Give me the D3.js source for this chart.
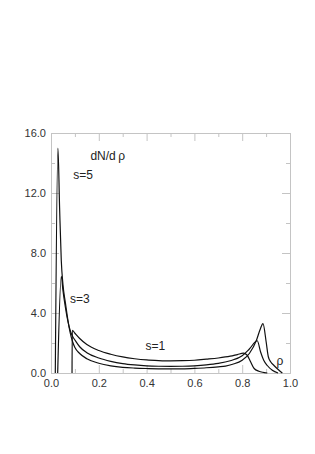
<!DOCTYPE html>
<html>
<head>
<meta charset="utf-8">
<script src="https://cdn.jsdelivr.net/npm/d3@7"></script>
<style>
  body { margin: 0; background: #fff; }
  svg text { font-family: "Liberation Sans", Arial, sans-serif; }
</style>
</head>
<body>
<div id="chart"></div>
<script>
// dN/drho curves for s=1, s=3, s=5 as [rho, value]
var s1 = [[0.088,0],[0.089,2.85],[0.1,2.65],[0.12,2.3],[0.15,1.9],[0.2,1.5],[0.25,1.25],[0.3,1.07],
          [0.35,0.95],[0.4,0.87],[0.45,0.83],[0.5,0.81],[0.55,0.82],[0.6,0.85],[0.65,0.92],[0.7,1.0],
          [0.75,1.12],[0.78,1.23],[0.805,1.32],[0.82,1.2],[0.835,0.75],[0.85,0.3],[0.87,0.12],[0.885,0.05],[0.905,0]];
var s3 = [[0.028,0],[0.043,6.45],[0.05,5.5],[0.06,4.4],[0.07,3.5],[0.08,2.85],[0.09,2.45],[0.1,2.2],
          [0.12,1.75],[0.15,1.35],[0.2,1.0],[0.25,0.78],[0.3,0.63],[0.35,0.54],[0.4,0.48],[0.45,0.45],
          [0.5,0.44],[0.55,0.45],[0.6,0.48],[0.65,0.54],[0.7,0.64],[0.75,0.82],[0.8,1.15],[0.83,1.6],
          [0.863,2.15],[0.877,1.4],[0.89,0.85],[0.905,0.5],[0.926,0.18],[0.95,0]];
var s5 = [[0.018,0],[0.029,15],[0.036,11],[0.043,7.5],[0.05,5.9],[0.06,4.7],[0.07,3.6],[0.08,2.7],
          [0.09,2.1],[0.1,1.7],[0.12,1.3],[0.15,0.95],[0.2,0.65],[0.25,0.48],[0.3,0.38],[0.35,0.33],
          [0.4,0.3],[0.45,0.28],[0.5,0.27],[0.55,0.28],[0.6,0.31],[0.65,0.35],[0.7,0.41],[0.73,0.46],
          [0.76,0.58],[0.8,0.85],[0.83,1.3],[0.86,2.2],[0.875,2.9],[0.887,3.29],[0.9,2.1],[0.909,1.1],
          [0.919,0.75],[0.933,0.5],[0.954,0.18],[0.968,0]];

var xMajor = [0, 0.2, 0.4, 0.6, 0.8, 1.0];
var xMinor = [0.1, 0.3, 0.5, 0.7, 0.9];
var yMajor = [0, 4, 8, 12, 16];
var yMinor = [2, 6, 10, 14];

// curve labels: [text, rho, value]
var labels = [["s=5", 0.093, 12.93], ["s=3", 0.08, 4.7], ["s=1", 0.395, 1.52]];

var margin = {top: 133, right: 25, bottom: 81, left: 51},
    width = 315 - margin.left - margin.right,
    height = 454 - margin.top - margin.bottom;

var x = d3.scaleLinear().domain([0, 1]).range([0, width]);
var y = d3.scaleLinear().domain([0, 16]).range([height, 0]);

var svg = d3.select("#chart").append("svg")
    .attr("width", 315)
    .attr("height", 454)
  .append("g")
    .attr("transform", "translate(" + margin.left + "," + margin.top + ")");

var frame = "#c4c4c4";

function styleAxis(g, showText) {
  g.selectAll("path").attr("stroke", frame);
  g.selectAll("line").attr("stroke", frame);
  g.selectAll("text").attr("fill", "#333").style("font-size", "11px");
  if (!showText) g.selectAll("text").remove();
}

// bottom
svg.append("g").attr("transform", "translate(0," + height + ")")
  .call(d3.axisBottom(x).tickValues(xMajor).tickSizeInner(-8).tickSizeOuter(0).tickPadding(6).tickFormat(d3.format(".1f")))
  .call(styleAxis, true);
svg.append("g").attr("transform", "translate(0," + height + ")")
  .call(d3.axisBottom(x).tickValues(xMinor).tickSizeInner(-4).tickSizeOuter(0))
  .call(styleAxis, false);
// top
svg.append("g")
  .call(d3.axisTop(x).tickValues(xMajor).tickSizeInner(-8).tickSizeOuter(0))
  .call(styleAxis, false);
svg.append("g")
  .call(d3.axisTop(x).tickValues(xMinor).tickSizeInner(-4).tickSizeOuter(0))
  .call(styleAxis, false);
// left
svg.append("g")
  .call(d3.axisLeft(y).tickValues(yMajor).tickSizeInner(-8).tickSizeOuter(0).tickPadding(5).tickFormat(d3.format(".1f")))
  .call(styleAxis, true);
svg.append("g")
  .call(d3.axisLeft(y).tickValues(yMinor).tickSizeInner(-4).tickSizeOuter(0))
  .call(styleAxis, false);
// right
svg.append("g").attr("transform", "translate(" + width + ",0)")
  .call(d3.axisRight(y).tickValues(yMajor).tickSizeInner(-8).tickSizeOuter(0))
  .call(styleAxis, false);
svg.append("g").attr("transform", "translate(" + width + ",0)")
  .call(d3.axisRight(y).tickValues(yMinor).tickSizeInner(-4).tickSizeOuter(0))
  .call(styleAxis, false);

var line = d3.line()
  .x(function(d) { return x(d[0]); })
  .y(function(d) { return y(d[1]); })
  .curve(d3.curveMonotoneX);

[s1, s3, s5].forEach(function(series) {
  svg.append("path")
    .datum(series)
    .attr("fill", "none")
    .attr("stroke", "#111")
    .attr("stroke-width", 1.2)
    .attr("d", line);
});

labels.forEach(function(l) {
  svg.append("text")
    .attr("x", x(l[1]))
    .attr("y", y(l[2]))
    .attr("fill", "#222")
    .style("font-size", "12px")
    .text(l[0]);
});

// axis titles written inside the frame
svg.append("text")
  .attr("x", x(0.165))
  .attr("y", y(14.2))
  .attr("fill", "#222")
  .style("font-size", "12px")
  .text("dN/d\u2009\u03c1");

svg.append("text")
  .attr("x", x(0.943))
  .attr("y", y(0.55))
  .attr("fill", "#222")
  .style("font-size", "12px")
  .text("\u03c1");
</script>
</body>
</html>
